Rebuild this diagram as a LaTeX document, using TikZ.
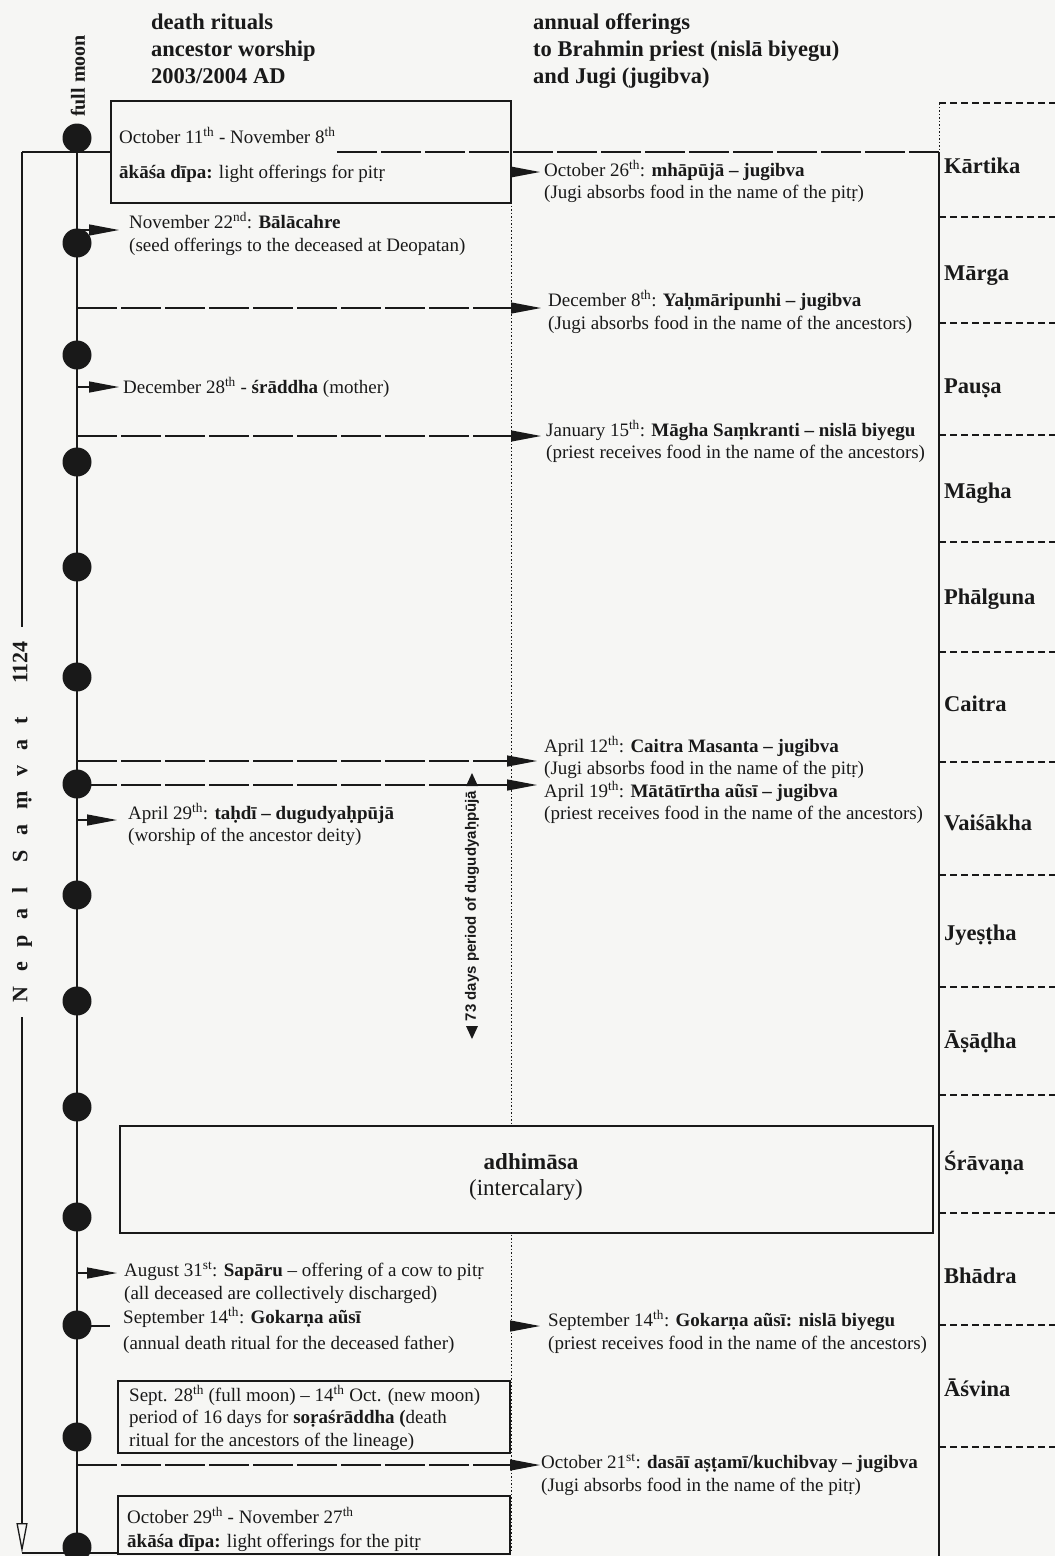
\documentclass[tikz,border=0pt]{standalone}
\usepackage{fontspec}
\setmainfont{Liberation Serif}
\newfontfamily\sansfont{Liberation Sans}
\usetikzlibrary{arrows.meta}
\definecolor{paper}{RGB}{246,246,244}
\definecolor{ink}{RGB}{25,25,25}
\begin{document}
\begin{tikzpicture}[x=1pt,y=-1pt,
  txt/.style={anchor=base west, inner sep=0pt, font=\fontsize{19}{23}\selectfont, text=ink},
  hdr/.style={anchor=base west, inner sep=0pt, font=\bfseries\fontsize{22.5}{27}\selectfont, text=ink},
  dotn/.style={circle, fill=ink, minimum size=29pt, inner sep=0pt},
  ln/.style={draw=ink, line width=1.3pt},
  longdash/.style={ln, dash pattern=on 40pt off 4pt},
  tip/.style={-{Triangle[length=30pt,width=11pt]}},
  dotline/.style={draw=ink, line width=1pt, dash pattern=on 1.5pt off 2pt},
  sepline/.style={draw=ink, line width=1.2pt, dash pattern=on 7pt off 4pt},
  boxn/.style={draw=ink, line width=1.5pt, fill=paper, anchor=north west, inner sep=0pt}]
\useasboundingbox (0,0) rectangle (1055,1556);
\fill[paper] (0,0) rectangle (1055,1556);

% middle dotted line
\coordinate (m1) at (511,202);
\coordinate (m2) at (511,1553);
\draw[dotline] (m1) -- (m2);

% boxes
\node[boxn, minimum width=400pt, minimum height=102pt] (box1) at (110,100) {};
\node[boxn, minimum width=813pt, minimum height=107pt] (boxad) at (119,1125) {};
\node[boxn, minimum width=392pt, minimum height=72pt] (box3) at (117,1380) {};
\node[boxn, minimum width=392pt, minimum height=58pt] (box4) at (117,1495) {};

% headers
\node[hdr] (h1) at (151,29) {death rituals};
\node[hdr] (h2) at (151,56) {ancestor worship};
\node[hdr] (h3) at (151,83) {2003/2004 AD};
\node[hdr] (h4) at (533,29) {annual offerings};
\node[hdr] (h5) at (533,56) {to Brahmin priest (nislā biyegu)};
\node[hdr] (h6) at (533,83) {and Jugi (jugibva)};

\node[rotate=90, inner sep=0pt, text=ink, font=\bfseries\fontsize{20}{20}\selectfont] (fm) at (78,76) {full moon};

% outer Nepal Samvat line
\coordinate (o1) at (22,152);
\coordinate (o2) at (22,627);
\coordinate (o3) at (22,1017);
\coordinate (o4) at (22,1553);
\coordinate (o5) at (117,1553);
\draw[ln] (o1) -- (o2);
\draw[ln, -{Triangle[open,length=30pt,width=11pt]}] (o3) -- (o4);
\draw[ln] (o4) -- (o5);
\node[rotate=90, inner sep=0pt, text=ink, font=\bfseries\fontsize{22}{22}\selectfont] (ns) at (22,822)
 {N\hspace{15pt}e\hspace{15pt}p\hspace{15pt}a\hspace{15pt}l\hspace{25pt}S\hspace{15pt}a\hspace{15pt}ṃ\hspace{15pt}v\hspace{15pt}a\hspace{15pt}t\hspace{33pt}1124};

% timeline
\coordinate (tl0) at (77,138);
\coordinate (tlend) at (77,1556);
\draw[ln] (tl0) -- (tlend);
\foreach \y [count=\i] in {138,243,355,462,567,677,784,895,1001,1107,1217,1325,1437,1547}
  \node[dotn] (d\i) at (77,\y) {};

% full moon line
\coordinate (fa) at (110,152);
\coordinate (fb) at (337,152);
\coordinate (fc) at (939,152);
\draw[ln] (o1) -- (fa);
\draw[longdash] (fb) -- (fc);

% month column
\coordinate (mc0) at (939,103);
\coordinate (mc1) at (939,1556);
\draw[dotline] (mc0) -- (fc);
\draw[ln] (fc) -- (mc1);
\foreach \y [count=\i] in {103,217,323,435,542,652,762,875,987,1095,1213,1325,1447}{
  \coordinate (sa\i) at (939,\y);
  \coordinate (sb\i) at (1055,\y);
  \draw[sepline] (sa\i) -- (sb\i);
}
\foreach \y/\m [count=\i] in {173/Kārtika,280/Mārga,393/Pauṣa,498/Māgha,604/Phālguna,711/Caitra,830/Vaiśākha,940/Jyeṣṭha,1048/Āṣāḍha,1170/Śrāvaṇa,1283/Bhādra,1396/Āśvina}
  \node[hdr] (mon\i) at (944,\y) {\m};

% left texts
\node[txt] (l1a) at (119,143) {October 11\textsuperscript{th} - November 8\textsuperscript{th}};
\node[txt] (l1b) at (119,178) {\textbf{ākāśa dīpa:} light offerings for pitṛ};
\node[txt] (l2a) at (129,228) {November 22\textsuperscript{nd}: \textbf{Bālācahre}};
\node[txt] (l2b) at (129,251) {(seed offerings to the deceased at Deopatan)};
\node[txt] (l3) at (123,393) {December 28\textsuperscript{th} - \textbf{śrāddha} (mother)};
\node[txt] (l4a) at (128,819) {April 29\textsuperscript{th}: \textbf{taḥdī – dugudyaḥpūjā}};
\node[txt] (l4b) at (128,841) {(worship of the ancestor deity)};
\node[anchor=base, inner sep=0pt, text=ink, font=\bfseries\fontsize{23}{23}\selectfont] (ad1) at (531,1169) {adhimāsa};
\node[anchor=base, inner sep=0pt, text=ink, font=\fontsize{23}{23}\selectfont] (ad2) at (526,1195) {(intercalary)};
\node[txt] (l5a) at (124,1276) {August 31\textsuperscript{st}: \textbf{Sapāru} – offering of a cow to pitṛ};
\node[txt] (l5b) at (124,1299) {(all deceased are collectively discharged)};
\node[txt] (l6a) at (123,1323) {September 14\textsuperscript{th}: \textbf{Gokarṇa aũsī}};
\node[txt] (l6b) at (123,1349) {(annual death ritual for the deceased father)};
\node[txt] (l7a) at (129,1401) {Sept. 28\textsuperscript{th} (full moon) – 14\textsuperscript{th} Oct. (new moon)};
\node[txt] (l7b) at (129,1423) {period of 16 days for \textbf{soṛaśrāddha (}death};
\node[txt] (l7c) at (129,1446) {ritual for the ancestors of the lineage)};
\node[txt] (l8a) at (127,1523) {October 29\textsuperscript{th} - November 27\textsuperscript{th}};
\node[txt] (l8b) at (127,1547) {\textbf{ākāśa dīpa:} light offerings for the pitṛ};

% right texts
\node[txt] (r1a) at (544,176) {October 26\textsuperscript{th}: \textbf{mhāpūjā – jugibva}};
\node[txt] (r1b) at (544,198) {(Jugi absorbs food in the name of the pitṛ)};
\node[txt] (r2a) at (548,306) {December 8\textsuperscript{th}: \textbf{Yaḥmāripunhi – jugibva}};
\node[txt] (r2b) at (548,329) {(Jugi absorbs food in the name of the ancestors)};
\node[txt] (r3a) at (546,436) {January 15\textsuperscript{th}: \textbf{Māgha Saṃkranti – nislā biyegu}};
\node[txt] (r3b) at (546,458) {(priest receives food in the name of the ancestors)};
\node[txt] (r4a) at (544,752) {April 12\textsuperscript{th}: \textbf{Caitra Masanta – jugibva}};
\node[txt] (r4b) at (544,774) {(Jugi absorbs food in the name of the pitṛ)};
\node[txt] (r4c) at (544,797) {April 19\textsuperscript{th}: \textbf{Mātātīrtha aũsī – jugibva}};
\node[txt] (r4d) at (544,819) {(priest receives food in the name of the ancestors)};
\node[txt] (r5a) at (548,1326) {September 14\textsuperscript{th}: \textbf{Gokarṇa aũsī: nislā biyegu}};
\node[txt] (r5b) at (548,1349) {(priest receives food in the name of the ancestors)};
\node[txt] (r6a) at (541,1468) {October 21\textsuperscript{st}: \textbf{dasāī aṣṭamī/kuchibvay – jugibva}};
\node[txt] (r6b) at (541,1491) {(Jugi absorbs food in the name of the pitṛ)};

% 73 days
\node[rotate=90, inner sep=0pt, text=ink, font=\sansfont\bfseries\fontsize{15}{15}\selectfont] (p73) at (472,906) {73 days period of dugudyaḥpūjā};
\fill[ink] (466,786) -- (478,786) -- (472,773) -- cycle;
\fill[ink] (466,1026) -- (478,1026) -- (472,1039) -- cycle;

% left arrows from timeline
\coordinate (a2s) at (77,230);  \coordinate (a2e) at (119,230);
\coordinate (a3s) at (77,387);  \coordinate (a3e) at (119,387);
\coordinate (a4s) at (77,820);  \coordinate (a4e) at (117,820);
\coordinate (a5s) at (77,1273); \coordinate (a5e) at (117,1273);
\coordinate (a6s) at (77,1326); \coordinate (a6e) at (110,1326);
\draw[ln, tip] (a2s) -- (a2e);
\draw[ln, tip] (a3s) -- (a3e);
\draw[ln, tip] (a4s) -- (a4e);
\draw[ln, tip] (a5s) -- (a5e);
\draw[ln] (a6s) -- (a6e);

% right arrows
\coordinate (b1s) at (510,172);  \coordinate (b1e) at (540,172);
\coordinate (b2s) at (77,308);   \coordinate (b2e) at (541,308);
\coordinate (b3s) at (77,436);   \coordinate (b3e) at (541,436);
\coordinate (b4s) at (77,761);   \coordinate (b4e) at (537,761);
\coordinate (b5s) at (77,785);   \coordinate (b5e) at (537,785);
\coordinate (b6s) at (511,1326); \coordinate (b6e) at (540,1326);
\coordinate (b7s) at (77,1465);  \coordinate (b7e) at (540,1465);
\draw[ln, tip] (b1s) -- (b1e);
\draw[longdash, tip] (b2s) -- (b2e);
\draw[longdash, tip] (b3s) -- (b3e);
\draw[longdash, tip] (b4s) -- (b4e);
\draw[longdash, tip] (b5s) -- (b5e);
\draw[ln, tip] (b6s) -- (b6e);
\draw[longdash, tip] (b7s) -- (b7e);
\end{tikzpicture}
\end{document}
